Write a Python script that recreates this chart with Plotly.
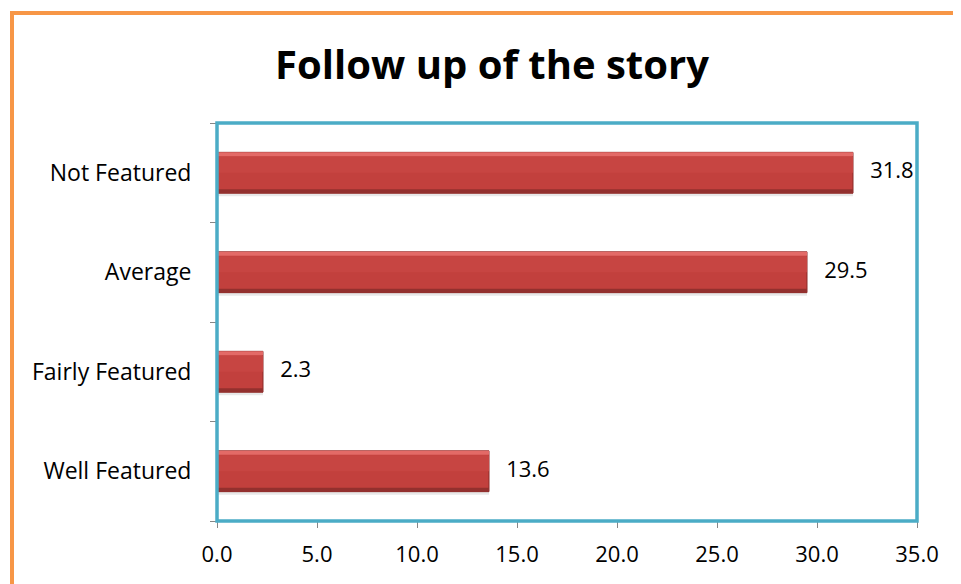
import plotly.graph_objects as go

categories = ["Well Featured", "Fairly Featured", "Average", "Not Featured"]
values = [13.6, 2.3, 29.5, 31.8]
x_ticks = [0, 5, 10, 15, 20, 25, 30, 35]
x_tick_labels = ["0.0", "5.0", "10.0", "15.0", "20.0", "25.0", "30.0", "35.0"]
title_text = "Follow up of the story"

FONT = "Open Sans"
PAGE_OFF = 8  # browser body margin
W, H = 961 - PAGE_OFF, 584 - PAGE_OFF
L, R, T, B = 217 - PAGE_OFF, 44, 123 - PAGE_OFF, 63
pw, ph = W - L - R, H - T - B

fig = go.Figure()


def layer(offset, width, color, line=None):
    fig.add_trace(go.Bar(y=categories, x=values, orientation="h",
                         offset=offset, width=width,
                         marker=dict(color=color, line=line or dict(width=0)),
                         hoverinfo="skip", showlegend=False))


# shadow
layer(-0.235, 0.41, "rgba(0,0,0,0.09)")
# base bar
layer(-0.205, 0.41, "#C2403D", dict(color="#8A2B29", width=1))
# upper lighter half
layer(0.0, 0.16, "#C74542")
# bottom dark bevel
layer(-0.205, 0.04, "#93302E")
# top highlight bevel
layer(0.165, 0.04, "#E36A67")

# value labels
fig.add_trace(go.Scatter(y=categories, x=values, mode="text",
                         text=["   " + f"{v:.1f}" for v in values],
                         textposition="middle right",
                         textfont=dict(family=FONT, size=22, color="black"),
                         cliponaxis=False, showlegend=False, hoverinfo="skip"))

fig.update_layout(
    width=W, height=H, barmode="overlay",
    margin=dict(l=L, r=R, t=T, b=B, pad=0),
    paper_bgcolor="white", plot_bgcolor="white",
    font=dict(family=FONT, size=22, color="black"),
    title=dict(text="<b>" + title_text + "</b>", x=(492 - PAGE_OFF) / W,
               xanchor="center", y=1 - (65 - PAGE_OFF) / H, yanchor="middle",
               font=dict(family=FONT, size=40, color="black")),
    xaxis=dict(range=[0, 35], tickvals=x_ticks, ticktext=x_tick_labels,
               showgrid=False, zeroline=False, showline=True, linecolor="#868686",
               ticks="outside", ticklen=6, tickcolor="#868686",
               tickfont=dict(size=22), ticklabelstandoff=8, fixedrange=True),
    yaxis=dict(categoryorder="array", categoryarray=categories,
               range=[-0.5, 3.5],
               showgrid=False, zeroline=False, showline=True, linecolor="#868686",
               ticks="outside", ticklen=6, tickcolor="#868686", tickson="boundaries",
               tickfont=dict(size=23), ticklabelstandoff=20, fixedrange=True),
    shapes=[
        dict(type="rect", xref="paper", yref="paper", x0=0, x1=1, y0=0, y1=1,
             line=dict(color="#4BACC6", width=3.5), layer="above"),
        dict(type="rect", xref="paper", yref="paper",
             x0=(12 - 217) / pw, x1=(1000 - 217) / pw,
             y0=-0.5, y1=(521 - 13) / ph,
             line=dict(color="#F79646", width=4), layer="above"),
    ],
)

fig.write_html("out.html")
